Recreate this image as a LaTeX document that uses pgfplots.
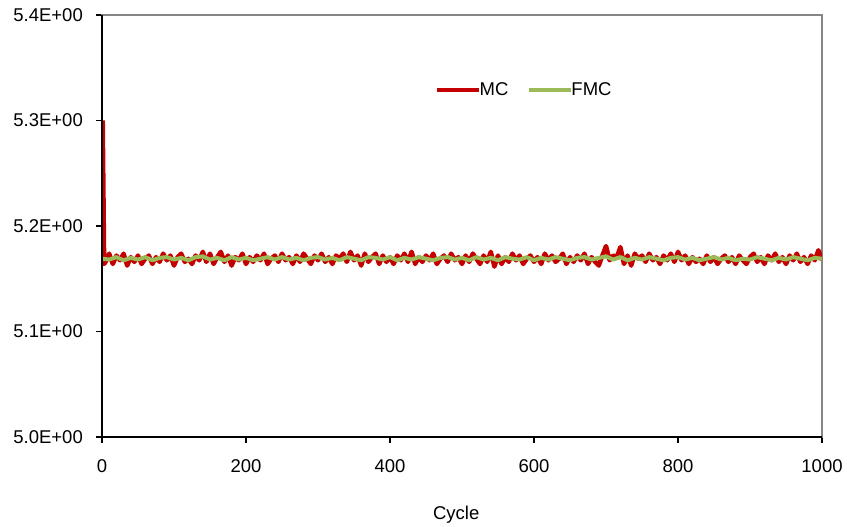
\documentclass[border=0pt]{standalone}
\usepackage{pgfplots}
\pgfplotsset{compat=1.18}
\usepackage{pgfplotstable}
\usepackage{fontspec}
\setmainfont{Liberation Sans}
\definecolor{mcred}{RGB}{196,0,0}
\definecolor{fmcgreen}{RGB}{155,187,89}
\definecolor{boxgray}{RGB}{134,134,134}
\newcommand{\chartfont}{\fontsize{18.5bp}{22bp}\selectfont}

\pgfplotstableread{
x y
1 5.300
3 5.164
5 5.166
10 5.1738
15 5.164
20 5.172
25 5.1675
30 5.1738
35 5.1625
40 5.1705
45 5.166
50 5.172
55 5.164
60 5.169
65 5.172
70 5.164
75 5.1705
80 5.166
85 5.1738
90 5.1675
95 5.172
100 5.1625
105 5.1705
110 5.1738
115 5.166
120 5.169
125 5.164
130 5.172
135 5.1675
140 5.1755
145 5.166
150 5.1738
155 5.164
160 5.1705
165 5.1755
170 5.166
175 5.172
180 5.1625
185 5.1705
190 5.1675
195 5.1738
200 5.164
205 5.1705
210 5.166
215 5.172
220 5.1675
225 5.1738
230 5.164
235 5.169
240 5.172
245 5.166
250 5.1738
255 5.1675
260 5.1705
265 5.164
270 5.172
275 5.166
280 5.1738
285 5.169
290 5.164
295 5.172
300 5.1675
305 5.1738
310 5.166
315 5.1705
320 5.164
325 5.172
330 5.169
335 5.1738
340 5.166
345 5.1755
350 5.1675
355 5.172
360 5.1625
365 5.1738
370 5.166
375 5.1705
380 5.1738
385 5.164
390 5.172
395 5.166
400 5.1705
405 5.164
410 5.172
415 5.1675
420 5.1738
425 5.166
430 5.1755
435 5.164
440 5.1705
445 5.166
450 5.172
455 5.1675
460 5.1738
465 5.164
470 5.169
475 5.172
480 5.166
485 5.1738
490 5.1675
495 5.1705
500 5.164
505 5.172
510 5.166
515 5.1738
520 5.169
525 5.164
530 5.172
535 5.166
540 5.1755
545 5.1615
550 5.172
555 5.164
560 5.1705
565 5.166
570 5.1738
575 5.1675
580 5.172
585 5.164
590 5.169
595 5.172
600 5.166
605 5.1705
610 5.164
615 5.1738
620 5.1675
625 5.172
630 5.166
635 5.169
640 5.1738
645 5.164
650 5.1705
655 5.166
660 5.172
665 5.1675
670 5.1738
675 5.164
680 5.1705
685 5.166
690 5.1625
695 5.172
700 5.181
705 5.1675
710 5.172
715 5.1705
720 5.180
725 5.164
730 5.172
735 5.1625
740 5.1738
745 5.169
750 5.172
755 5.166
760 5.1738
765 5.1675
770 5.1705
775 5.164
780 5.172
785 5.1675
790 5.1738
795 5.166
800 5.1755
805 5.1675
810 5.172
815 5.164
820 5.1705
825 5.166
830 5.169
835 5.164
840 5.172
845 5.166
850 5.1705
855 5.164
860 5.169
865 5.172
870 5.166
875 5.1705
880 5.164
885 5.172
890 5.1675
895 5.164
900 5.1705
905 5.1738
910 5.166
915 5.1705
920 5.164
925 5.172
930 5.1675
935 5.1738
940 5.166
945 5.1705
950 5.164
955 5.172
960 5.1675
965 5.1738
970 5.166
975 5.1705
980 5.164
985 5.172
990 5.1675
995 5.177
1000 5.1675
}\mcdata

\pgfplotstableread{
x y
0 5.1690
10 5.1682
20 5.1705
30 5.1675
40 5.1698
50 5.1682
60 5.1705
70 5.1675
80 5.1698
90 5.1705
100 5.1682
110 5.1698
120 5.1675
130 5.1705
140 5.1712
150 5.1682
160 5.1698
170 5.1675
180 5.1705
190 5.1682
200 5.1698
210 5.1675
220 5.1690
230 5.1705
240 5.1682
250 5.1705
260 5.1682
270 5.1698
280 5.1675
290 5.1698
300 5.1705
310 5.1682
320 5.1698
330 5.1675
340 5.1705
350 5.1690
360 5.1675
370 5.1705
380 5.1698
390 5.1682
400 5.1705
410 5.1675
420 5.1698
430 5.1682
440 5.1705
450 5.1690
460 5.1675
470 5.1698
480 5.1705
490 5.1682
500 5.1698
510 5.1675
520 5.1705
530 5.1682
540 5.1698
550 5.1675
560 5.1705
570 5.1690
580 5.1682
590 5.1705
600 5.1675
610 5.1698
620 5.1682
630 5.1705
640 5.1690
650 5.1675
660 5.1698
670 5.1705
680 5.1682
690 5.1698
700 5.1712
710 5.1682
720 5.1705
730 5.1675
740 5.1698
750 5.1682
760 5.1705
770 5.1690
780 5.1675
790 5.1698
800 5.1705
810 5.1682
820 5.1698
830 5.1675
840 5.1690
850 5.1705
860 5.1682
870 5.1698
880 5.1675
890 5.1690
900 5.1682
910 5.1705
920 5.1690
930 5.1675
940 5.1698
950 5.1682
960 5.1705
970 5.1690
980 5.1675
990 5.1698
1000 5.1690
}\fmcdata

\begin{document}
\begin{tikzpicture}
\useasboundingbox (-102bp,-90bp) rectangle (745bp,437bp);
\begin{axis}[
  at={(0,0)}, anchor=south west,
  scale only axis,
  width=720bp, height=422bp,
  xmin=0, xmax=1000, ymin=5.0, ymax=5.4,
  xtick={0,200,400,600,800,1000},
  xticklabels={0,200,400,600,800,1000},
  ytick={5.0,5.1,5.2,5.3,5.4},
  yticklabels={5.0E+00,5.1E+00,5.2E+00,5.3E+00,5.4E+00},
  xtick pos=bottom, ytick pos=left,
  tick align=outside,
  major tick length=6bp,
  tick style={black, line width=1.5bp},
  axis line style={boxgray, line width=2.5bp},
  ticklabel style={font=\chartfont},
  yticklabel style={inner sep=0pt, xshift=-13bp},
  xticklabel style={inner sep=0pt, yshift=-16bp},
  xlabel={Cycle},
  xlabel style={font=\chartfont, at={(axis description cs:0.492,-0.1955)}, anchor=base},
  clip mode=individual,
  legend columns=2,
  legend style={draw=none, fill=none, font=\chartfont, inner sep=0pt,
    at={(axis description cs:0.4625,0.822)}, anchor=west,
    /tikz/every odd column/.style={column sep=-2bp},
    /tikz/every even column/.style={column sep=19bp},
    nodes={inner sep=0pt, anchor=west}},
  legend cell align=left,
  legend image code/.code={\draw[#1] (0bp,0bp) -- (42bp,0bp);},
]
\addplot[mcred, line width=4.5bp, line join=round] table[x=x,y=y] {\mcdata};
\addlegendentry{MC}
\addplot[fmcgreen, line width=4bp, line join=round] table[x=x,y=y] {\fmcdata};
\addlegendentry{FMC}
\draw[black, line width=2.5bp] (rel axis cs:0,1) -- (rel axis cs:0,0) -- (rel axis cs:1,0);
\end{axis}
\end{tikzpicture}
\end{document}
